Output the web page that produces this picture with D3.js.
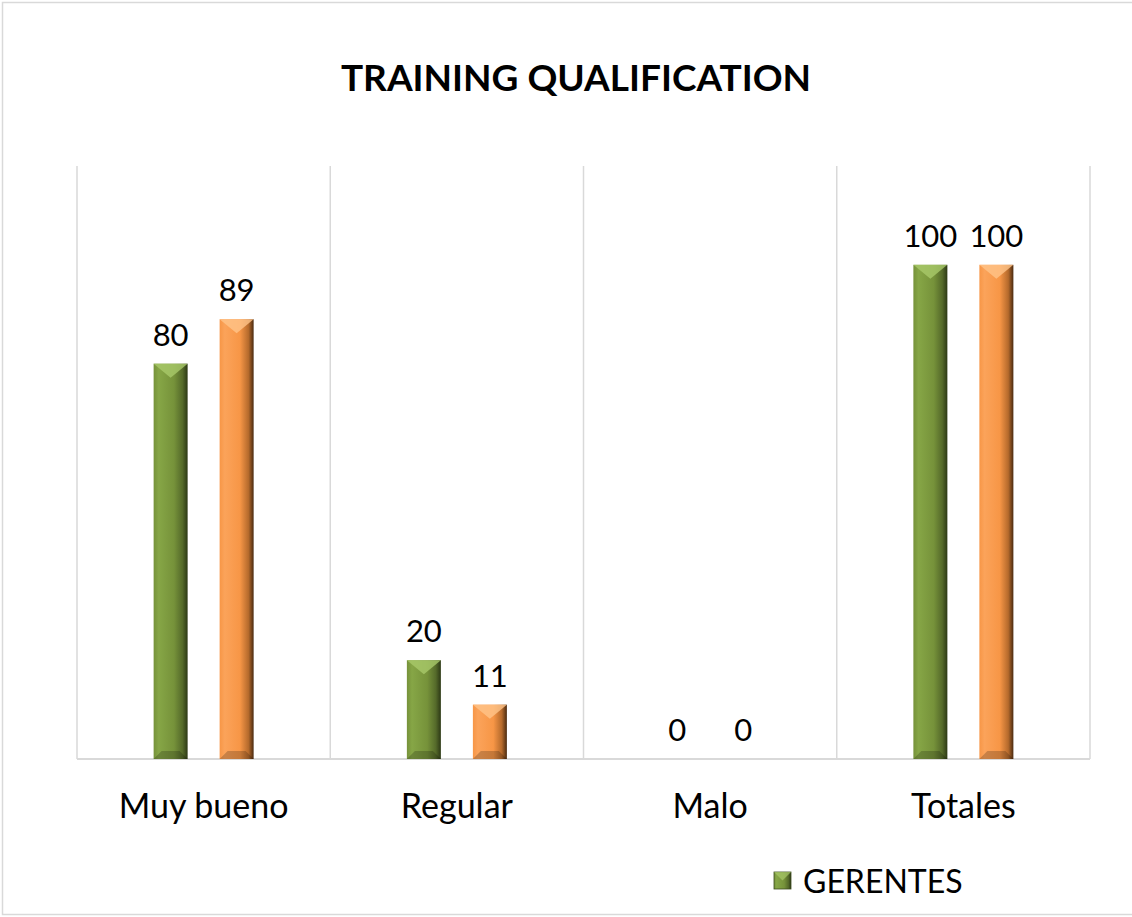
<!DOCTYPE html>
<html>
<head>
<meta charset="utf-8">
<script src="https://cdn.jsdelivr.net/npm/d3@7"></script>
<style>
  body { margin: 0; background: #fff; }
  svg { display: block; font-family: Lato, "Open Sans", sans-serif; }
</style>
</head>
<body>
<svg id="chart" width="1132" height="917"></svg>
<script>
const categories = ['Muy bueno', 'Regular', 'Malo', 'Totales'];
const seriesNames = ['GERENTES', 'EMPLEADOS'];
const gerentes = [80, 20, 0, 100];
const empleados = [89, 11, 0, 100];

const svg = d3.select('#chart');
const margin = {left: 77, right: 1090, top: 166, bottom: 759};

// chart frame (right side runs past the picture)
svg.append('rect')
  .attr('x', 2.5).attr('y', 2.5)
  .attr('width', 1140).attr('height', 912)
  .attr('fill', '#fff').attr('stroke', '#d9d9d9').attr('stroke-width', 1.5);

svg.append('text')
  .attr('x', 576).attr('y', 91)
  .attr('text-anchor', 'middle')
  .attr('font-size', 37).attr('font-weight', 'bold')
  .text('TRAINING QUALIFICATION');

const x = d3.scaleBand().domain(categories).range([margin.left, margin.right]);
const y = d3.scaleLinear().domain([0, 120]).range([margin.bottom, margin.top]);
const mid = x.bandwidth() / 2;
const xs = d3.scaleBand().domain(seriesNames).range([mid - 50, mid + 50]).paddingInner(0.485);

const defs = svg.append('defs');
function grad(id, light, base, dark, edge) {
  const g = defs.append('linearGradient').attr('id', id)
    .attr('x1', 0).attr('x2', 1).attr('y1', 0).attr('y2', 0);
  g.append('stop').attr('offset', '0%').attr('stop-color', base);
  g.append('stop').attr('offset', '15%').attr('stop-color', light);
  g.append('stop').attr('offset', '60%').attr('stop-color', base);
  g.append('stop').attr('offset', '85%').attr('stop-color', dark);
  g.append('stop').attr('offset', '100%').attr('stop-color', edge);
}
grad('gGreen', '#86a646', '#76923a', '#556a2a', '#2c3815');
grad('gOrange', '#fba35a', '#f79646', '#b56a2c', '#4a2a10');
const fills = {GERENTES: ['url(#gGreen)', '#a9c96a'], EMPLEADOS: ['url(#gOrange)', '#ffc48a']};

// vertical gridlines
svg.append('g').selectAll('line')
  .data(d3.range(categories.length + 1))
  .join('line')
  .attr('x1', i => margin.left + i * x.step()).attr('x2', i => margin.left + i * x.step())
  .attr('y1', margin.top).attr('y2', margin.bottom)
  .attr('stroke', '#d9d9d9').attr('stroke-width', 1.5);

svg.append('line')
  .attr('x1', margin.left).attr('x2', margin.right)
  .attr('y1', margin.bottom).attr('y2', margin.bottom)
  .attr('stroke', '#d9d9d9').attr('stroke-width', 2);

const rows = categories.map((c, i) => ({
  cat: c,
  vals: [{s: 'GERENTES', v: gerentes[i]}, {s: 'EMPLEADOS', v: empleados[i]}]
}));

const groups = svg.append('g').selectAll('g')
  .data(rows).join('g')
  .attr('transform', d => `translate(${x(d.cat)},0)`);

groups.each(function(d) {
  const g = d3.select(this);
  d.vals.forEach(p => {
    const bx = xs(p.s), bw = xs.bandwidth();
    const top = y(p.v), h = y(0) - y(p.v);
    if (h > 0) {
      g.append('rect')
        .attr('x', bx).attr('y', top).attr('width', bw).attr('height', h)
        .attr('fill', fills[p.s][0]);
      // top bevel
      g.append('path')
        .attr('d', `M${bx},${top} L${bx + bw},${top} L${bx + bw / 2},${top + 14} Z`)
        .attr('fill', fills[p.s][1]).attr('opacity', 0.8);
      // bottom bevel
      g.append('path')
        .attr('d', `M${bx},${top + h} L${bx + bw},${top + h} L${bx + bw - 8},${top + h - 8} L${bx + 8},${top + h - 8} Z`)
        .attr('fill', '#000').attr('opacity', 0.2);
    }
    g.append('text')
      .attr('x', bx + bw / 2).attr('y', top - 18)
      .attr('text-anchor', 'middle').attr('font-size', 31)
      .text(p.v);
  });
});

// category labels
svg.append('g').selectAll('text')
  .data(categories).join('text')
  .attr('x', d => x(d) + x.bandwidth() / 2).attr('y', 818)
  .attr('text-anchor', 'middle').attr('font-size', 34)
  .text(d => d);

// legend: only the first entry is inside the visible frame
const legend = svg.append('g').attr('transform', 'translate(774,872)');
legend.append('rect').attr('width', 17).attr('height', 17).attr('fill', fills[seriesNames[0]][0])
  .attr('stroke', '#3d4d1e').attr('stroke-width', 0.8);
legend.append('path').attr('d', 'M0,0 L17,0 L8.5,8.5 Z').attr('fill', '#a9c96a').attr('opacity', 0.7);
legend.append('text').attr('x', 29).attr('y', 21).attr('font-size', 32).text(seriesNames[0]);
</script>
</body>
</html>
